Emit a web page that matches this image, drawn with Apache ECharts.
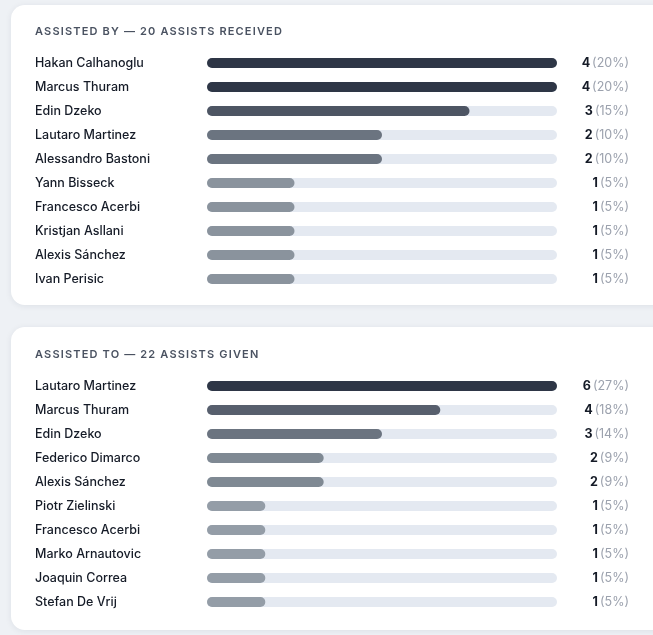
<!DOCTYPE html>
<html>
<head>
<meta charset="utf-8">
<script src="https://cdn.jsdelivr.net/npm/echarts@6/dist/echarts.min.js"></script>
<style>
  html, body { margin:0; padding:0; background:#eef1f5; }
  #wrap { position:relative; width:653px; height:635px; overflow:hidden; }
  #chart { position:absolute; left:0; top:0; width:653px; height:635px; }
  .ttl { position:absolute; left:35px; font-family:Inter, "Noto Sans", sans-serif; font-size:11px; font-weight:600; letter-spacing:1.17px; color:#4a5261; line-height:14px; }
</style>
</head>
<body>
<div id="wrap">
  <div id="chart"></div>
  <div class="ttl" id="t1" style="top:24px"></div>
  <div class="ttl" id="t2" style="top:347px"></div>
</div>
<script>
const title1 = "ASSISTED BY — 20 ASSISTS RECEIVED";
const names1 = ["Hakan Calhanoglu","Marcus Thuram","Edin Dzeko","Lautaro Martinez","Alessandro Bastoni","Yann Bisseck","Francesco Acerbi","Kristjan Asllani","Alexis Sánchez","Ivan Perisic"];
const values1 = [4,4,3,2,2,1,1,1,1,1];
const pct1 = [20,20,15,10,10,5,5,5,5,5];

const title2 = "ASSISTED TO — 22 ASSISTS GIVEN";
const names2 = ["Lautaro Martinez","Marcus Thuram","Edin Dzeko","Federico Dimarco","Alexis Sánchez","Piotr Zielinski","Francesco Acerbi","Marko Arnautovic","Joaquin Correa","Stefan De Vrij"];
const values2 = [6,4,3,2,2,1,1,1,1,1];
const pct2 = [27,18,14,9,9,5,5,5,5,5];

document.getElementById('t1').textContent = title1;
document.getElementById('t2').textContent = title2;

function shade(r) {
  const c = (a, b) => Math.round(Math.max(0, Math.min(255, a - b * r)));
  return 'rgb(' + c(168,122) + ',' + c(178,124) + ',' + c(186,116) + ')';
}

const FONT = 'Inter, "Noto Sans", sans-serif';
const chart = echarts.init(document.getElementById('chart'), null, {renderer:'canvas'});

function block(idx, names, values, pct, top) {
  const max = Math.max(...values);
  return {
    grid: {left:207, width:350, top:top, height:240, containLabel:false},
    xAxis: {gridIndex:idx, type:'value', min:0, max:max, show:false},
    yAxes: [
      {gridIndex:idx, type:'category', inverse:true, data:names, position:'left',
        axisLine:{show:false}, axisTick:{show:false}, splitLine:{show:false},
        axisLabel:{align:'left', margin:172, color:'#151b27', fontFamily:FONT, fontSize:12.5, fontWeight:500}},
      {gridIndex:idx, type:'category', inverse:true, data:names.map((n,i)=>i), position:'right',
        axisLine:{show:false}, axisTick:{show:false}, splitLine:{show:false},
        axisLabel:{align:'right', margin:72,
          formatter:(v)=>'{n|'+values[v]+'}{p|('+pct[v]+'%)}',
          rich:{n:{fontFamily:FONT, fontSize:12.5, fontWeight:700, color:'#151b27'},
                p:{fontFamily:FONT, fontSize:12.5, color:'#9ba1ad', padding:[0,0,0,2]}}}}
    ],
    series: {type:'bar', xAxisIndex:idx, yAxisIndex:idx*2, barWidth:10,
      data: values.map(v=>({value:v, itemStyle:{color:shade(v/max)}})),
      itemStyle:{borderRadius:5},
      showBackground:true,
      backgroundStyle:{color:'#e4e9f1', borderRadius:5},
      silent:true, animation:false}
  };
}

const b1 = block(0, names1, values1, pct1, 51);
const b2 = block(1, names2, values2, pct2, 374);

chart.setOption({
  animation:false,
  graphic:[
    {type:'rect', z:-10, shape:{x:11, y:5, width:720, height:300, r:14},
      style:{fill:'#ffffff', shadowBlur:6, shadowColor:'rgba(30,40,60,0.08)', shadowOffsetY:1}},
    {type:'rect', z:-10, shape:{x:11, y:327, width:720, height:303, r:14},
      style:{fill:'#ffffff', shadowBlur:6, shadowColor:'rgba(30,40,60,0.08)', shadowOffsetY:1}}
  ],
  grid:[b1.grid, b2.grid],
  xAxis:[b1.xAxis, b2.xAxis],
  yAxis:[...b1.yAxes, ...b2.yAxes],
  series:[b1.series, b2.series]
});
</script>
</body>
</html>
